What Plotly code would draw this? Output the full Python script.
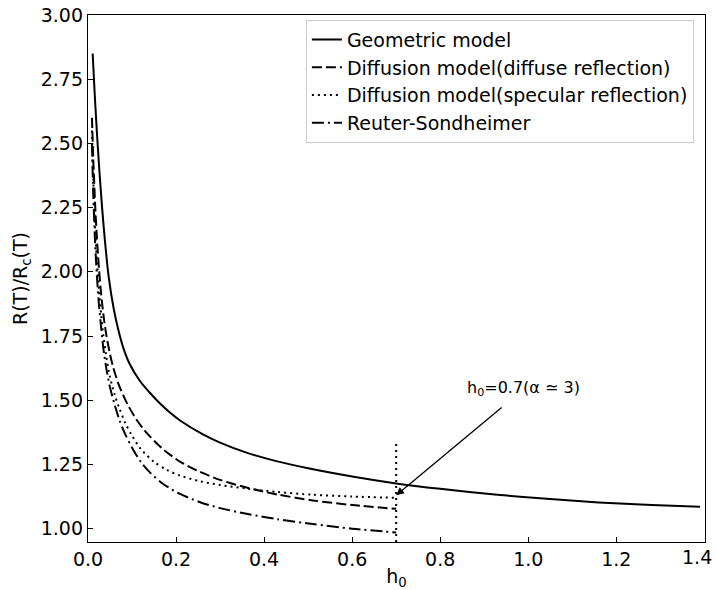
import plotly.graph_objects as go

# ---- data ----
h_geo = [0.0106, 0.015, 0.02, 0.0256, 0.032, 0.0385, 0.047, 0.058, 0.068, 0.08, 0.095,
         0.118, 0.14, 0.163, 0.186, 0.21, 0.26, 0.3, 0.36, 0.43, 0.5, 0.6, 0.7, 0.8,
         0.93, 1.05, 1.16, 1.28, 1.39]
r_geo = [2.85, 2.70, 2.55, 2.40, 2.25, 2.12, 1.98, 1.86, 1.78, 1.705, 1.64,
         1.575, 1.53, 1.488, 1.452, 1.42, 1.368, 1.335, 1.296, 1.262, 1.235, 1.203, 1.176, 1.155,
         1.132, 1.115, 1.102, 1.092, 1.085]

h_dif = [0.009, 0.012, 0.016, 0.02, 0.025, 0.03, 0.036, 0.042, 0.05, 0.057, 0.07, 0.08,
         0.091, 0.11, 0.125, 0.14, 0.17, 0.208, 0.253, 0.3, 0.36, 0.43, 0.51, 0.6, 0.7]
r_dif = [2.60, 2.44, 2.27, 2.14, 2.01, 1.91, 1.82, 1.75, 1.68, 1.63, 1.56, 1.52,
         1.48, 1.425, 1.39, 1.36, 1.31, 1.262, 1.222, 1.19, 1.16, 1.133, 1.11, 1.092, 1.077]

h_spe = [0.009, 0.012, 0.016, 0.02, 0.025, 0.03, 0.035, 0.042, 0.05, 0.06, 0.072, 0.085,
         0.099, 0.12, 0.15, 0.18, 0.208, 0.253, 0.3, 0.36, 0.43, 0.51, 0.6, 0.7]
r_spe = [2.55, 2.36, 2.18, 2.05, 1.93, 1.83, 1.75, 1.665, 1.59, 1.525, 1.465, 1.41,
         1.365, 1.31, 1.26, 1.228, 1.207, 1.185, 1.17, 1.156, 1.143, 1.132, 1.125, 1.12]

h_rs = [0.009, 0.012, 0.016, 0.02, 0.025, 0.03, 0.035, 0.042, 0.05, 0.061, 0.072, 0.084,
        0.1, 0.12, 0.14, 0.17, 0.208, 0.253, 0.3, 0.36, 0.43, 0.51, 0.6, 0.7]
r_rs = [2.50, 2.30, 2.12, 1.99, 1.87, 1.78, 1.70, 1.62, 1.55, 1.48, 1.42, 1.37,
        1.315, 1.26, 1.22, 1.175, 1.136, 1.104, 1.08, 1.058, 1.037, 1.018, 1.0, 0.985]

marker_h = [0.7, 0.7]
marker_r = [0.948, 1.337]

names = ["Geometric model", "Diffusion model(diffuse reflection)",
         "Diffusion model(specular reflection)", "Reuter-Sondheimer"]

x_ticks = [0.0, 0.2, 0.4, 0.6, 0.8, 1.0, 1.2, 1.4]
x_tick_labels = ["0.0", "0.2", "0.4", "0.6", "0.8", "1.0", "1.2", "1.4"]
y_ticks = [1.00, 1.25, 1.50, 1.75, 2.00, 2.25, 2.50, 2.75, 3.00]

annot_text = "h<sub>0</sub>=0.7(α ≃ 3)"
annot_xy = (0.7, 1.13)
annot_tail = (0.943, 1.477)
annot_pos = (0.989, 1.546)

# ---- figure ----
FONT = "DejaVu Sans"
TICK_SIZE = 19
fig = go.Figure()
styles = ["solid", "10px,4px", "2px,4px", "12px,4px,2px,4px"]
for (hx, ry), nm, ds in zip([(h_geo, r_geo), (h_dif, r_dif), (h_spe, r_spe), (h_rs, r_rs)],
                            names, styles):
    fig.add_trace(go.Scatter(x=hx, y=ry, mode="lines", name=nm,
                             line=dict(color="black", width=2, dash=ds,
                                       shape="spline", smoothing=0.8)))

fig.add_trace(go.Scatter(x=marker_h, y=marker_r, mode="lines", showlegend=False,
                         line=dict(color="black", width=2, dash="2px,4px")))

# arrow
fig.add_annotation(x=annot_xy[0], y=annot_xy[1], ax=annot_tail[0], ay=annot_tail[1],
                   xref="x", yref="y", axref="x", ayref="y", text="",
                   showarrow=True, arrowhead=2, arrowsize=1.2, arrowwidth=1.3,
                   arrowcolor="black")
fig.add_annotation(x=annot_pos[0], y=annot_pos[1], xref="x", yref="y",
                   text=annot_text, showarrow=False,
                   font=dict(family=FONT, size=16, color="black"))

# last x tick label drawn as a right-anchored text so it stays inside the page
fig.add_annotation(x=x_ticks[-1], y=0, xref="x", yref="paper", text=x_tick_labels[-1],
                   showarrow=False, xanchor="right", yanchor="top", xshift=10, yshift=-2,
                   font=dict(family=FONT, size=TICK_SIZE, color="black"))

axis_common = dict(showline=True, linecolor="black", linewidth=1.3, mirror=True,
                   ticks="inside", ticklen=5, tickwidth=1.2, tickcolor="black",
                   showgrid=False, zeroline=False, automargin=False,
                   tickfont=dict(family=FONT, size=TICK_SIZE, color="black"))

fig.update_xaxes(range=[0, 1.4015], tickvals=x_ticks,
                 ticktext=x_tick_labels[:-1] + [""],
                 title=dict(text="h<sub>0</sub>", standoff=6,
                            font=dict(family=FONT, size=TICK_SIZE, color="black")),
                 **axis_common)
fig.update_yaxes(range=[0.948, 3.0], tickvals=y_ticks, tickformat=".2f",
                 title=dict(text="R(T)/R<sub>c</sub>(T)", standoff=8,
                            font=dict(family=FONT, size=TICK_SIZE, color="black")),
                 **axis_common)

fig.update_layout(
    width=716, height=590,
    margin=dict(l=88, r=11, t=15, b=48, autoexpand=False),
    plot_bgcolor="white", paper_bgcolor="white",
    font=dict(family=FONT, size=TICK_SIZE, color="black"),
    legend=dict(x=0.982, y=0.991, xanchor="right", yanchor="top",
                bgcolor="white", bordercolor="#cccccc", borderwidth=1,
                font=dict(family=FONT, size=19, color="black")),
)

fig.write_html("out.html")
